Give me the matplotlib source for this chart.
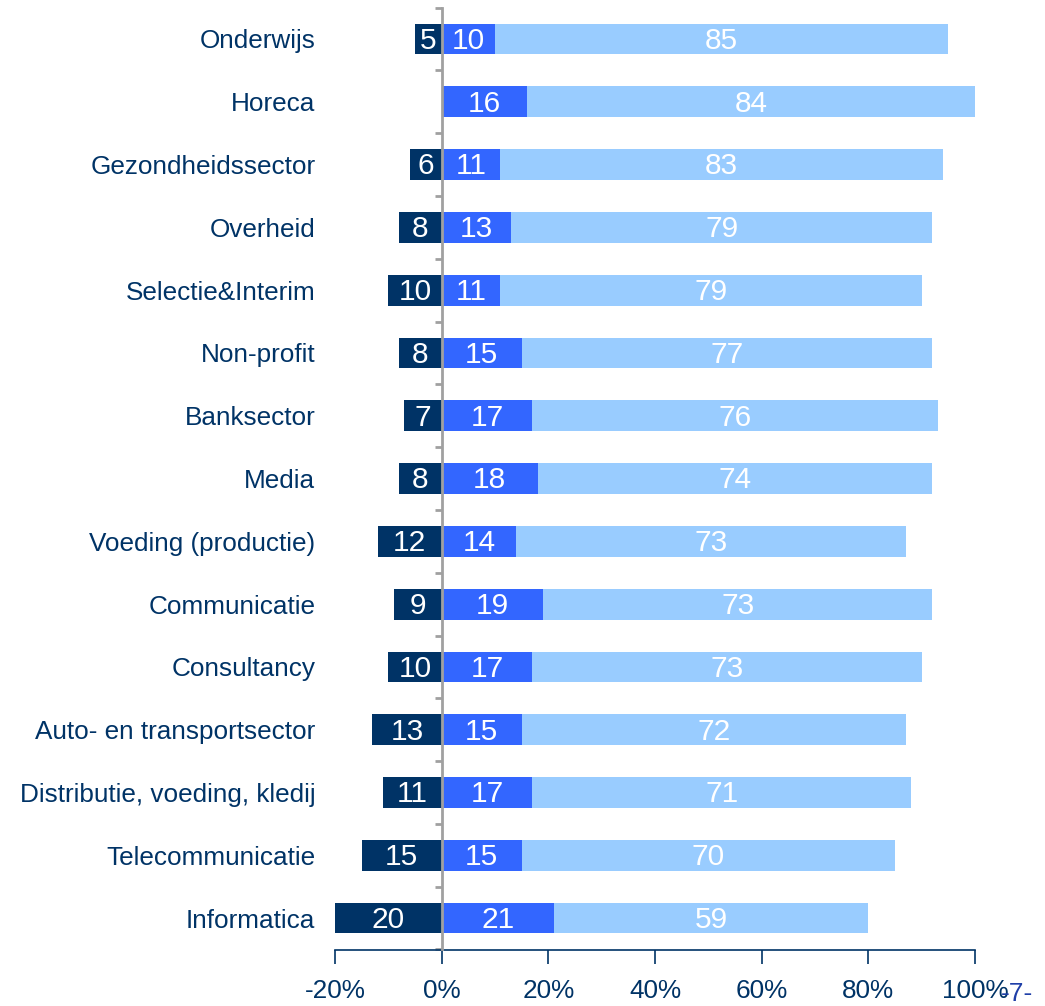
import numpy as np
import matplotlib.pyplot as plt
from matplotlib.ticker import FixedLocator

plt.rcParams['font.family'] = ['Liberation Sans', 'DejaVu Sans']

sectors = ['Onderwijs', 'Horeca', 'Gezondheidssector', 'Overheid', 'Selectie&Interim',
           'Non-profit', 'Banksector', 'Media', 'Voeding (productie)', 'Communicatie',
           'Consultancy', 'Auto- en transportsector', 'Distributie, voeding, kledij',
           'Telecommunicatie', 'Informatica']
neg = [5, 0, 6, 8, 10, 8, 7, 8, 12, 9, 10, 13, 11, 15, 20]
mid = [10, 16, 11, 13, 11, 15, 17, 18, 14, 19, 17, 15, 17, 15, 21]
pos = [85, 84, 83, 79, 79, 77, 76, 74, 73, 73, 73, 72, 71, 70, 59]
xticks = [-20, 0, 20, 40, 60, 80, 100]

NAVY = '#003366'
BLUE = '#3366FF'
LIGHT = '#99CCFF'

fig = plt.figure(figsize=(10.45, 10.06), dpi=100)
ax = fig.add_axes([335 / 1045, 1 - 949.5 / 1006, 640 / 1045, (949.5 - 7.6) / 1006])

y = np.arange(len(sectors))
neg = np.array(neg)
mid = np.array(mid)
pos = np.array(pos)
h = 0.49

ax.barh(y, -neg, height=h, color=NAVY)
ax.barh(y, mid, height=h, color=BLUE)
ax.barh(y, pos, left=mid, height=h, color=LIGHT)

for i in range(len(sectors)):
    if neg[i] > 0:
        ax.text(-neg[i] / 2, y[i] + 0.03, str(neg[i]), ha='center', va='center',
                color='white', fontsize=21.5)
    ax.text(mid[i] / 2, y[i] + 0.03, str(mid[i]), ha='center', va='center',
            color='white', fontsize=21.5)
    ax.text(mid[i] + pos[i] / 2, y[i] + 0.03, str(pos[i]), ha='center', va='center',
            color='white', fontsize=21.5)

ax.set_xlim(-20, 100)
ax.set_ylim(len(sectors) - 0.5, -0.5)

# vertical zero line acts as the category axis
ax.spines['left'].set_position(('data', 0))
ax.spines['left'].set_color('#A0A0A0')
ax.spines['left'].set_linewidth(2)
ax.spines['left'].set_zorder(3)
ax.spines['right'].set_visible(False)
ax.spines['top'].set_visible(False)
ax.spines['bottom'].set_color(NAVY)
ax.spines['bottom'].set_linewidth(1.2)

ax.set_yticks(y)
ax.set_yticklabels(sectors, fontsize=18.8, color=NAVY)
ax.tick_params(axis='y', which='major', length=0, pad=91)
ax.yaxis.set_minor_locator(FixedLocator(np.arange(-0.5, len(sectors), 1.0)))
ax.tick_params(axis='y', which='minor', length=5, width=2, color='#A0A0A0', direction='out')

ax.set_xticks(xticks)
ax.set_xticklabels([f'{t}%' for t in xticks], fontsize=18.8, color=NAVY)
ax.tick_params(axis='x', length=10, width=1.2, color=NAVY, direction='out', pad=11)

# page number in the bottom-right corner
fig.text(1017 / 1045, 1 - 994 / 1006, '-7-', ha='center', va='center',
         fontsize=19, color='#1F3FA8')

plt.savefig('out.png', dpi=100)
plt.close()
